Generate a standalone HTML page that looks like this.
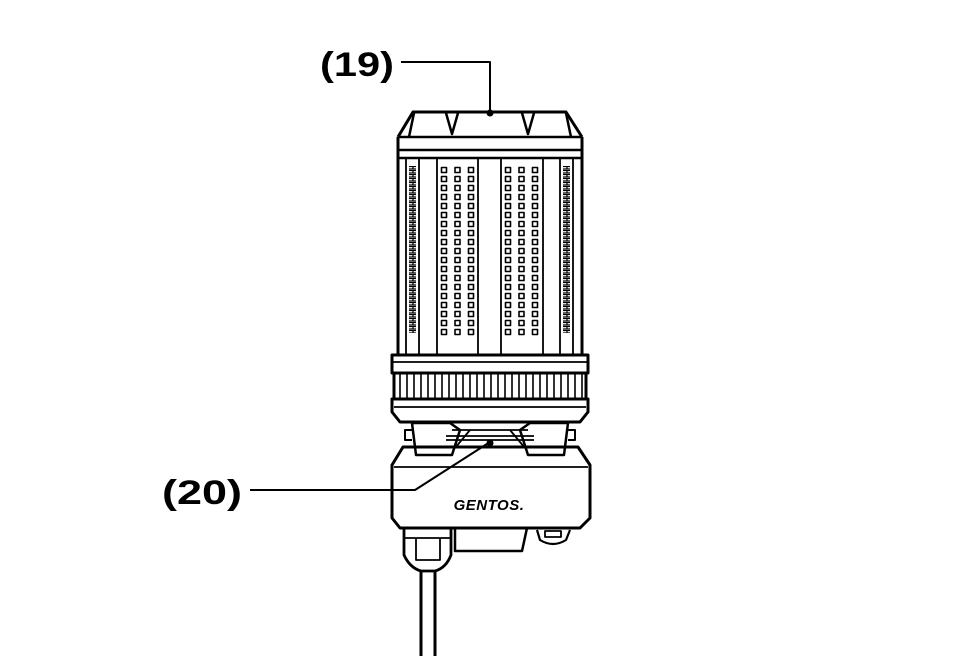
<!DOCTYPE html>
<html><head><style>html,body{margin:0;padding:0;background:#fff;width:980px;height:656px;overflow:hidden}</style></head>
<body>
<svg width="980" height="656" viewBox="0 0 980 656" xmlns="http://www.w3.org/2000/svg" fill="none" stroke="#000" stroke-width="2.5" stroke-linejoin="round">
<defs>
<pattern id="d" x="440" y="166" width="13.5" height="9" patternUnits="userSpaceOnUse">
<rect x="1.5" y="1.5" width="5" height="5" fill="none" stroke="#000" stroke-width="1.6"/>
</pattern>
<pattern id="d2" x="504" y="166" width="13.5" height="9" patternUnits="userSpaceOnUse">
<rect x="1.5" y="1.5" width="5" height="5" fill="none" stroke="#000" stroke-width="1.6"/>
</pattern>
<pattern id="s" x="0" y="166" width="7" height="4" patternUnits="userSpaceOnUse">
<rect x="0" y="0.5" width="7" height="2.5" fill="none" stroke="#000" stroke-width="1.2"/>
</pattern>
</defs>
<text x="320" y="76" textLength="74" lengthAdjust="spacingAndGlyphs" font-family="Liberation Sans, sans-serif" font-weight="bold" font-size="34" fill="#000" stroke="none">(19)</text>
<polyline points="401,62 490,62 490,113" stroke-width="2"/>
<text x="162" y="504" textLength="80" lengthAdjust="spacingAndGlyphs" font-family="Liberation Sans, sans-serif" font-weight="bold" font-size="34" fill="#000" stroke="none">(20)</text>
<polyline points="250,490 415,490 490,442" stroke-width="2"/>
<path d="M398,137 L413,112 L566,112 L582,137" stroke-width="3"/>
<path d="M414,113 L409,137 M446,113 L452,134 L458,113 M522,113 L528,134 L534,113 M566,113 L571,137"/>
<circle cx="490" cy="113" r="3.5" fill="#000" stroke="none"/>
<path d="M398,137 L398,355 M582,137 L582,355" stroke-width="3"/>
<line x1="398" y1="137" x2="582" y2="137"/>
<line x1="398" y1="150" x2="582" y2="150"/>
<line x1="398" y1="158" x2="582" y2="158"/>
<g stroke-width="1.8">
<line x1="406" y1="158" x2="406" y2="355"/><line x1="419" y1="158" x2="419" y2="355"/>
<line x1="437" y1="158" x2="437" y2="355"/><line x1="478" y1="158" x2="478" y2="355"/>
<line x1="501" y1="158" x2="501" y2="355"/><line x1="543" y1="158" x2="543" y2="355"/>
<line x1="560" y1="158" x2="560" y2="355"/><line x1="573" y1="158" x2="573" y2="355"/>
</g>
<rect x="440" y="166" width="37" height="171" fill="url(#d)" stroke="none"/>
<rect x="504" y="166" width="37" height="171" fill="url(#d2)" stroke="none"/>
<rect x="409" y="166" width="7" height="167" fill="url(#s)" stroke="none"/>
<rect x="563" y="166" width="7" height="167" fill="url(#s)" stroke="none"/>
<path d="M392,355 L588,355 L588,373 L392,373 Z" stroke-width="3"/>
<line x1="392" y1="362" x2="588" y2="362" stroke-width="1.8"/>
<rect x="394" y="373" width="192" height="26" stroke-width="3"/>
<g stroke-width="1.6">
<path d="M400,374v24M407,374v24M414,374v24M421,374v24M428,374v24M435,374v24M442,374v24M449,374v24M456,374v24M463,374v24M470,374v24M477,374v24M484,374v24M491,374v24M498,374v24M505,374v24M512,374v24M519,374v24M526,374v24M533,374v24M540,374v24M547,374v24M554,374v24M561,374v24M568,374v24M575,374v24M582,374v24"/>
</g>
<path d="M392,399 L392,412 L400,422 L580,422 L588,412 L588,399 Z" stroke-width="3"/>
<line x1="394" y1="407" x2="586" y2="407" stroke-width="1.8"/>
<path d="M412,423 L416,455 L452,455 L460,430 L450,423 Z" stroke-width="2.5"/>
<path d="M568,423 L564,455 L528,455 L520,430 L530,423 Z" stroke-width="2.5"/>
<path d="M452,430 L528,430 M446,436 L534,436 M446,440 L534,440 M455,448 L470,430 M525,448 L510,430" stroke-width="1.8"/>
<path d="M412,430 L405,430 L405,440 L412,440 M568,430 L575,430 L575,440 L568,440" stroke-width="2"/>
<circle cx="490" cy="443" r="3.5" fill="#000" stroke="none"/>
<path d="M403,447 L392,465 L392,518 L400,528 L580,528 L590,518 L590,465 L578,447 Z" stroke-width="3"/>
<line x1="394" y1="467" x2="588" y2="467" stroke-width="1.8"/>
<text x="489" y="510" text-anchor="middle" font-family="Liberation Sans, sans-serif" font-weight="bold" font-style="italic" font-size="15" fill="#000" stroke="none" letter-spacing="0.5">GENTOS.</text>
<path d="M455,528 L455,551 L522,551 L527,528" stroke-width="2.5"/>
<path d="M537,530 L540,540 Q553,548 566,540 L570,530" stroke-width="2.2"/>
<rect x="545" y="531" width="16" height="6" stroke-width="1.8"/>
<path d="M404,528 L404,555 Q410,568 421,571 L435,571 Q446,568 451,555 L451,528" stroke-width="2.8"/>
<path d="M404,538 L451,538 M416,538 L416,560 L440,560 L440,538" stroke-width="1.8"/>
<path d="M421,571 L421,656 M435,571 L435,656" stroke-width="3"/>
</svg>
</body></html>
